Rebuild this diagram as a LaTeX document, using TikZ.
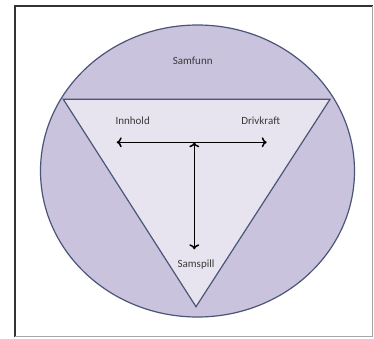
\documentclass[tikz,border=0pt]{standalone}
\usepackage{fontspec}
\setmainfont{Carlito}
\usetikzlibrary{arrows.meta}
\definecolor{outerfill}{HTML}{C9C3DD}
\definecolor{innerfill}{HTML}{E7E4EF}
\definecolor{edge}{HTML}{4A5578}
\definecolor{txt}{HTML}{3A3A3A}
\tikzset{
  lbl/.style={font=\fontsize{11}{13}\selectfont, text=txt, inner sep=1pt},
  tip/.style={line width=1.5pt, line cap=round},
  shp/.style={draw=edge, line width=1.2pt}
}
\begin{document}
\begin{tikzpicture}[x=1pt,y=-1pt, >={To[length=5pt,width=10pt]}]
\useasboundingbox (0,0) rectangle (374,338);
\fill[white] (0,0) rectangle (374,338);
% frame
\draw[line width=1.3pt, black!80] (15,337) -- (15,6) -- (372.5,6);
\draw[line width=1pt, black!35] (372.5,6) -- (372.5,336.5) -- (15,336.5);
% ellipse
\draw[shp, fill=outerfill] (197.5,171) ellipse [x radius=157, y radius=146];
% triangle
\coordinate (tl) at (63.3,99.3);
\coordinate (tr) at (330,99.3);
\coordinate (bt) at (196,306.7);
\draw[shp, fill=innerfill, line join=miter] (tl) -- (tr) -- (bt) -- cycle;
% labels
\node[lbl] (samfunn) at (192.7,60.7) {Samfunn};
\node[lbl] (innhold) at (132.7,120.7) {Innhold};
\node[lbl] (drivkraft) at (260.7,120.7) {Drivkraft};
\node[lbl] (samspill) at (196,265) {Samspill};
% arrows
\coordinate (hl) at (116.7,142.3);
\coordinate (hr) at (266.7,142.3);
\coordinate (vt) at (194.3,142.3);
\coordinate (vb) at (194.3,249.3);
\draw[tip, ->] (vt) -- (hl);
\draw[tip, ->] (vt) -- (hr);
\draw[tip, <->] (vt) -- (vb);
\end{tikzpicture}
\end{document}
